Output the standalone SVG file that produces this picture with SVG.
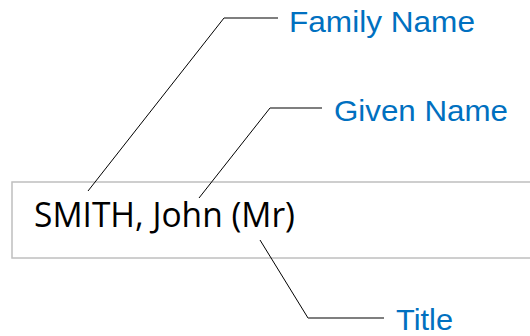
<svg xmlns="http://www.w3.org/2000/svg" width="530" height="336" viewBox="0 0 530 336">
<style>
.lbl{font-family:"Liberation Sans",Arial,sans-serif;font-size:30px;fill:#0070c0}
.name{font-family:"Open Sans","Noto Sans",sans-serif;font-size:34px;fill:#000}
.diag{stroke:#000;stroke-width:1;fill:none}
.hz{stroke:#7f7f7f;stroke-width:2;fill:none}
</style>
<rect width="530" height="336" fill="#fff"/>
<g id="namebox">
<rect x="12" y="182" width="540" height="76" fill="#fff" stroke="#bfbfbf" stroke-width="1.5"/>
<text class="name" x="34" y="227" textLength="261" lengthAdjust="spacingAndGlyphs">SMITH, John (Mr)</text>
</g>
<g id="connectors">
<line class="diag" x1="88" y1="191" x2="224" y2="18"/>
<line class="hz" x1="224" y1="18" x2="278" y2="18"/>
<line class="diag" x1="199" y1="198" x2="270" y2="108"/>
<line class="hz" x1="270" y1="108" x2="322" y2="108"/>
<line class="diag" x1="260" y1="240" x2="308" y2="318"/>
<line class="hz" x1="308" y1="318" x2="384" y2="318"/>
</g>
<g id="family-name"><text class="lbl" x="289" y="32" textLength="186" lengthAdjust="spacingAndGlyphs">Family Name</text></g>
<g id="given-name"><text class="lbl" x="334" y="121" textLength="174" lengthAdjust="spacingAndGlyphs">Given Name</text></g>
<g id="title"><text class="lbl" x="396" y="330" textLength="57" lengthAdjust="spacingAndGlyphs">Title</text></g>
</svg>
